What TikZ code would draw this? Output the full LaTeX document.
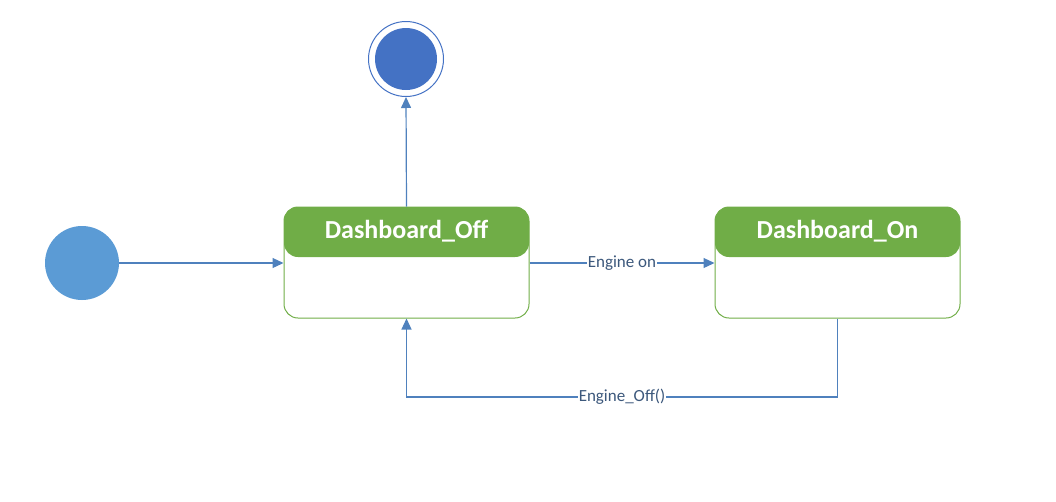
\documentclass[tikz,border=0pt]{standalone}
\usepackage{fontspec}
\setmainfont{Carlito}
\usetikzlibrary{arrows.meta,calc}
\definecolor{hdrgreen}{RGB}{112,173,71}
\definecolor{lineblue}{RGB}{79,129,189}
\definecolor{initblue}{RGB}{91,155,213}
\definecolor{finblue}{RGB}{68,114,196}
\definecolor{lbltext}{RGB}{60,88,124}
\tikzset{
  statebox/.style={draw=hdrgreen, line width=1pt, rounded corners=14pt, minimum width=245pt, minimum height=111pt, inner sep=0pt,
    path picture={\fill[hdrgreen] (path picture bounding box.north west) rectangle ([yshift=-50pt]path picture bounding box.north east);}},
  statetitle/.style={text=white, font=\fontsize{26}{30}\selectfont\bfseries, inner sep=0pt},
  conn/.style={draw=lineblue, line width=1.2pt, -{Triangle[width=10pt,length=11pt]}},
  connlabel/.style={fill=white, text=lbltext, font=\fontsize{17}{20}\selectfont, inner sep=1pt},
}
\begin{document}
\begin{tikzpicture}[x=1pt,y=-1pt]
\useasboundingbox (0,0) rectangle (1056,501);
\node[circle, fill=initblue, minimum size=74pt, inner sep=0pt] (init) at (82,263) {};
\node[circle, draw=finblue, line width=1pt, minimum size=75pt, inner sep=0pt] (final) at (406,59) {};
\node[circle, fill=finblue, minimum size=62pt, inner sep=0pt] (finalin) at (406,59) {};
\node[statebox] (off) at (406.5,262.5) {};
\node[statetitle] (offtitle) at ([yshift=-25pt]off.north) {Dashboard\_Off};
\node[statebox] (on) at (837.5,262.5) {};
\node[statetitle] (ontitle) at ([yshift=-25pt]on.north) {Dashboard\_On};
\coordinate (offin) at (off.west |- init.east);
\draw[conn] (init.east) -- (offin);
\draw[conn] (off.north) -- (final.south);
\draw[conn] (off.east |- 0,263) -- node[connlabel] {Engine on} (on.west |- 0,263);
\coordinate (bend) at (on.south |- 0,397);
\draw[conn] (on.south) -- (bend) -| node[connlabel, pos=0.25] {Engine\_Off()} (off.south);
\end{tikzpicture}
\end{document}
